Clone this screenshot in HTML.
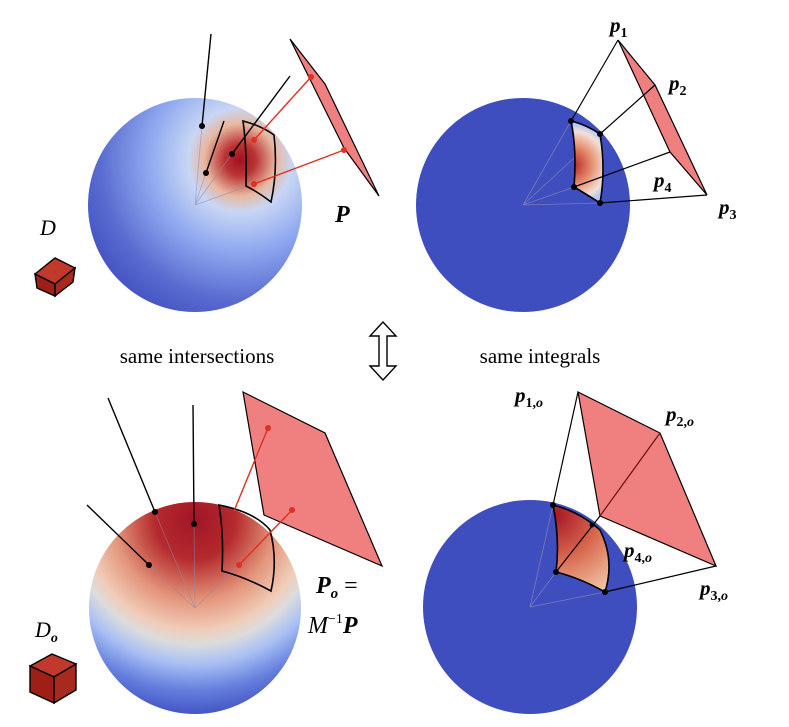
<!DOCTYPE html>
<html><head><meta charset="utf-8"><style>
html,body{margin:0;padding:0;background:#fff;}
svg{display:block;}
text{font-family:"Liberation Serif",serif;}
</style></head><body>
<svg width="789" height="727" viewBox="0 0 789 727">
<defs>
<radialGradient id="gTL" cx="240" cy="160" r="200" gradientUnits="userSpaceOnUse">
<stop offset="0" stop-color="#a01020"/><stop offset="0.08" stop-color="#bb3535"/><stop offset="0.18" stop-color="#e8b8a0"/><stop offset="0.26" stop-color="#c8d6f4"/><stop offset="0.45" stop-color="#90aaf0"/><stop offset="0.7" stop-color="#5a6cd0"/><stop offset="0.9" stop-color="#3e4ec0"/><stop offset="1" stop-color="#3b4cc0"/>
</radialGradient>
<radialGradient id="gBL" cx="195" cy="520" r="200" gradientUnits="userSpaceOnUse">
<stop offset="0" stop-color="#a01525"/><stop offset="0.2" stop-color="#b52a2e"/><stop offset="0.4" stop-color="#e3957a"/><stop offset="0.55" stop-color="#f0ccb8"/><stop offset="0.62" stop-color="#dcdcdc"/><stop offset="0.72" stop-color="#a9c0f4"/><stop offset="0.85" stop-color="#6680dd"/><stop offset="1" stop-color="#3b4cc0"/>
</radialGradient>
<radialGradient id="gTRp" cx="572" cy="165" r="40" gradientUnits="userSpaceOnUse">
<stop offset="0" stop-color="#b02020"/><stop offset="0.5" stop-color="#e89070"/><stop offset="0.85" stop-color="#f2e0d6"/><stop offset="1" stop-color="#b8c8f0"/>
</radialGradient>
<radialGradient id="gBRp" cx="555" cy="515" r="90" gradientUnits="userSpaceOnUse">
<stop offset="0" stop-color="#a81525"/><stop offset="0.5" stop-color="#d86a50"/><stop offset="1" stop-color="#f4c8a8"/>
</radialGradient>
</defs>

<!-- Top-left -->
<g>
<circle cx="195" cy="205" r="107" fill="url(#gTL)"/>
<g stroke="#8a8ab0" stroke-width="0.8" opacity="0.6"><line x1="195" y1="205" x2="206" y2="173"/><line x1="195" y1="205" x2="232" y2="154"/><line x1="195" y1="205" x2="254" y2="184"/><line x1="195" y1="205" x2="202" y2="126"/></g>
<path d="M243 121 Q262 126 274 135 Q278 170 271 202 Q258 192 246 186 Q247 150 243 121 Z" fill="none" stroke="#000" stroke-width="1.6"/>
<polygon points="290,39 325,84 379,196 344,148" fill="#f08080" stroke="#000" stroke-width="1.2"/>
<g stroke="#e03020" stroke-width="1.4"><line x1="254" y1="140" x2="311" y2="77"/><line x1="254" y1="184" x2="344" y2="150"/></g>
<g fill="#e03020"><circle cx="254" cy="140" r="3"/><circle cx="311" cy="77" r="3"/><circle cx="254" cy="184" r="3"/><circle cx="344" cy="150" r="3"/></g>
<g stroke="#000" stroke-width="1.4"><line x1="202" y1="126" x2="211" y2="34"/><line x1="206" y1="173" x2="224" y2="121"/><line x1="232" y1="154" x2="290" y2="76"/></g>
<g fill="#000"><circle cx="202" cy="126" r="3"/><circle cx="206" cy="173" r="3"/><circle cx="232" cy="154" r="3"/></g>
<text x="335" y="222" font-size="24" font-weight="bold" font-style="italic">P</text>
<text x="40" y="235" font-size="22" font-style="italic">D</text>
<g stroke="#000" stroke-width="1.4">
<polygon points="35,274 55,258 75,268 55,284" fill="#c0392b"/><polygon points="35,274 55,284 55,296 37,288" fill="#9e1f15"/><polygon points="55,284 75,268 73,282 55,296" fill="#a82a1e"/></g>
</g>

<!-- Top-right -->
<g>
<circle cx="523" cy="205" r="107" fill="#3f4ebf"/>
<g stroke="#7a7ab0" stroke-width="0.8"><line x1="523" y1="205" x2="571" y2="121"/><line x1="523" y1="205" x2="600" y2="134"/><line x1="523" y1="205" x2="574" y2="187"/><line x1="523" y1="205" x2="600" y2="203"/></g>
<path d="M571 121 Q587 125 600 134 Q606 170 600 203 Q586 194 574 187 Q577 150 571 121 Z" fill="url(#gTRp)" stroke="#000" stroke-width="1.6"/>
<polygon points="618,40 655,85 707,195 670,152" fill="#f08080" stroke="#000" stroke-width="1.2"/>
<g stroke="#000" stroke-width="1.2" fill="none"><line x1="571" y1="121" x2="618" y2="40"/><line x1="600" y1="134" x2="655" y2="85"/><line x1="574" y1="187" x2="670" y2="152"/><line x1="600" y1="203" x2="707" y2="195"/></g>
<g fill="#000"><circle cx="571" cy="121" r="3"/><circle cx="600" cy="134" r="3"/><circle cx="574" cy="187" r="3"/><circle cx="600" cy="203" r="3"/></g>
<g font-size="21" font-weight="bold" font-style="italic">
<text x="610" y="32">p<tspan font-size="14" dy="5" font-style="normal">1</tspan></text>
<text x="669" y="90">p<tspan font-size="14" dy="5" font-style="normal">2</tspan></text>
<text x="654" y="187">p<tspan font-size="14" dy="5" font-style="normal">4</tspan></text>
<text x="719" y="214">p<tspan font-size="14" dy="5" font-style="normal">3</tspan></text>
</g>
</g>

<!-- Middle -->
<text x="197" y="363" font-size="21" text-anchor="middle">same intersections</text>
<text x="540" y="363" font-size="21" text-anchor="middle">same integrals</text>
<g fill="none" stroke="#000" stroke-width="1.4">
<path d="M383 322 L370 336 L379 336 L379 366 L370 366 L383 380 L396 366 L387 366 L387 336 L396 336 Z"/></g>

<!-- Bottom-left -->
<g>
<circle cx="195" cy="608" r="106" fill="url(#gBL)"/>
<g stroke="#8a8ab0" stroke-width="0.8" opacity="0.6"><line x1="195" y1="608" x2="149" y2="565"/><line x1="195" y1="608" x2="155" y2="512"/><line x1="195" y1="608" x2="194" y2="524"/><line x1="195" y1="608" x2="239" y2="565"/></g>
<polygon points="243,392 325,433 382,566 264,515" fill="#f08080" stroke="#000" stroke-width="1.2"/>
<path d="M219 505 Q255 512 270 530 Q278 560 271 591 Q245 577 222 571 Q224 535 219 505 Z" fill="none" stroke="#000" stroke-width="1.6"/>
<g stroke="#e03020" stroke-width="1.4"><line x1="234" y1="511" x2="268" y2="428"/><line x1="239" y1="565" x2="292" y2="510"/></g>
<g fill="#e03020"><circle cx="268" cy="428" r="3"/><circle cx="292" cy="510" r="3"/><circle cx="239" cy="565" r="3"/></g>
<g stroke="#000" stroke-width="1.4"><line x1="149" y1="565" x2="87" y2="505"/><line x1="155" y1="512" x2="108" y2="398"/><line x1="194" y1="524" x2="193" y2="405"/></g>
<g fill="#000"><circle cx="149" cy="565" r="3"/><circle cx="155" cy="512" r="3"/><circle cx="194" cy="524" r="3"/></g>
<text x="316" y="593" font-size="24" font-style="italic"><tspan font-weight="bold">P</tspan><tspan font-size="15" dy="5" font-weight="bold">o</tspan><tspan dy="-5" font-style="normal"> =</tspan></text>
<text x="308" y="633" font-size="24" font-style="italic">M<tspan font-size="14" dy="-10" font-style="normal">−1</tspan><tspan dy="10" font-weight="bold">P</tspan></text>
<text x="35" y="637" font-size="22" font-style="italic">D<tspan font-size="14" dy="5" font-weight="bold">o</tspan></text>
<g stroke="#000" stroke-width="1.4">
<polygon points="30,666 52,654 76,664 54,677" fill="#c0392b"/><polygon points="30,666 54,677 54,703 30,692" fill="#9e1f15"/><polygon points="54,677 76,664 76,690 54,703" fill="#a82a1e"/></g>
</g>

<!-- Bottom-right -->
<g>
<circle cx="530" cy="607" r="107" fill="#3f4ebf"/>
<g stroke="#7a7ab0" stroke-width="0.8"><line x1="530" y1="607" x2="553" y2="505"/><line x1="530" y1="607" x2="556" y2="572"/><line x1="530" y1="607" x2="605" y2="592"/></g>
<polygon points="578,392 660,433 716,566 600,516" fill="#f08080" stroke="#000" stroke-width="1.2"/>
<line x1="660" y1="433" x2="600" y2="516" stroke="#6a1010" stroke-width="1.2"/>
<path d="M553 505 Q580 512 600 530 Q615 560 605 592 Q580 578 556 572 Q560 540 553 505 Z" fill="url(#gBRp)" stroke="#000" stroke-width="1.6"/>
<g stroke="#000" stroke-width="1.2"><line x1="553" y1="505" x2="578" y2="392"/><line x1="556" y1="572" x2="600" y2="516"/><line x1="605" y1="592" x2="716" y2="566"/></g>
<g fill="#000"><circle cx="553" cy="505" r="3"/><circle cx="592" cy="525" r="2.5"/><circle cx="556" cy="572" r="3"/><circle cx="605" cy="592" r="3"/></g>
<g font-size="21" font-weight="bold" font-style="italic">
<text x="515" y="402">p<tspan font-size="14" dy="5" font-style="normal">1,<tspan font-style="italic">o</tspan></tspan></text>
<text x="666" y="421">p<tspan font-size="14" dy="5" font-style="normal">2,<tspan font-style="italic">o</tspan></tspan></text>
<text x="624" y="557">p<tspan font-size="14" dy="5" font-style="normal">4,<tspan font-style="italic">o</tspan></tspan></text>
<text x="700" y="595">p<tspan font-size="14" dy="5" font-style="normal">3,<tspan font-style="italic">o</tspan></tspan></text>
</g>
</g>
</svg>
</body></html>
